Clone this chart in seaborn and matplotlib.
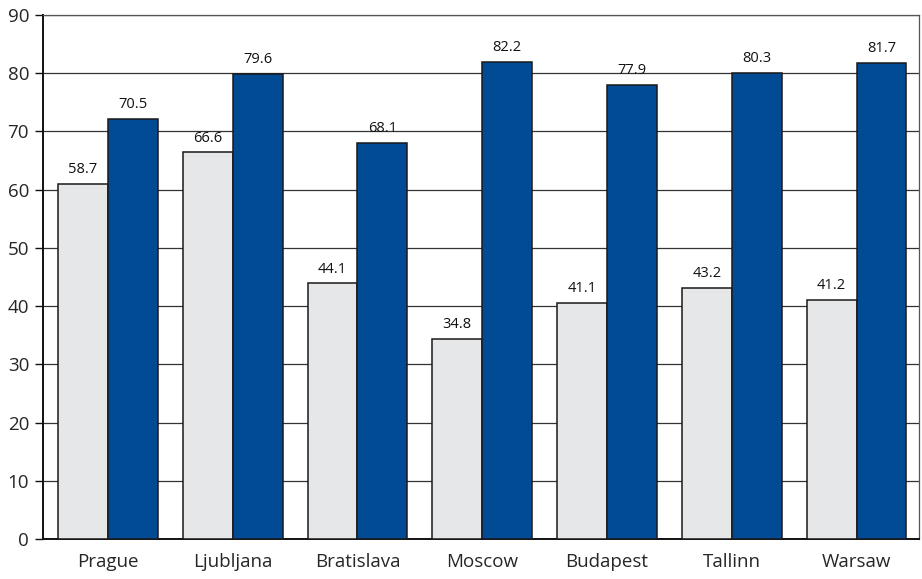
import pandas as pd
import matplotlib
matplotlib.use("Agg")
import matplotlib.pyplot as plt
import seaborn as sns

cities = ["Prague", "Ljubljana", "Bratislava", "Moscow", "Budapest", "Tallinn", "Warsaw"]
# bar heights
grey_values = [61.0, 66.4, 43.9, 34.3, 40.6, 43.1, 41.0]
blue_values = [72.2, 79.9, 68.0, 81.9, 78.0, 80.0, 81.7]
# value labels as printed above the bars
grey_labels = ["58.7", "66.6", "44.1", "34.8", "41.1", "43.2", "41.2"]
blue_labels = ["70.5", "79.6", "68.1", "82.2", "77.9", "80.3", "81.7"]
y_ticks = [0, 10, 20, 30, 40, 50, 60, 70, 80, 90]

GREY = "#e6e7e8"
BLUE = "#004b93"

df = pd.DataFrame({
    "city": cities * 2,
    "value": grey_values + blue_values,
    "series": ["a"] * len(cities) + ["b"] * len(cities),
})

sns.set_style("white")
plt.rcParams["font.family"] = ["Open Sans", "DejaVu Sans"]

fig = plt.figure(figsize=(9.22, 5.79), dpi=100)
ax = fig.add_axes([0.0466, 0.069, 0.9501, 0.905])

sns.barplot(data=df, x="city", y="value", hue="series", palette=[GREY, BLUE],
            saturation=1, edgecolor="#1a1a1a", linewidth=1.1, width=0.8, gap=0,
            legend=False, ax=ax, zorder=3)

for cont, labs in zip(ax.containers, [grey_labels, blue_labels]):
    ax.bar_label(cont, labels=labs, padding=5, fontsize=10.5, color="#111111")

ax.set_ylim(0, 90)
ax.set_xlim(-0.52, 6.5)
ax.set_yticks(y_ticks)
ax.yaxis.grid(True, color="#333333", linewidth=0.9, zorder=0)
ax.set_axisbelow(True)
ax.set_xlabel("")
ax.set_ylabel("")

ax.tick_params(axis="y", direction="out", length=6, width=1, color="#111111",
               labelsize=13.5, pad=4, left=True)
ax.tick_params(axis="x", length=0, labelsize=13.5, pad=10)

for side in ["left", "bottom"]:
    ax.spines[side].set_color("#111111")
    ax.spines[side].set_linewidth(1.4)
for side in ["top", "right"]:
    ax.spines[side].set_color("#555555")
    ax.spines[side].set_linewidth(0.9)

fig.savefig("out.png", dpi=100)
